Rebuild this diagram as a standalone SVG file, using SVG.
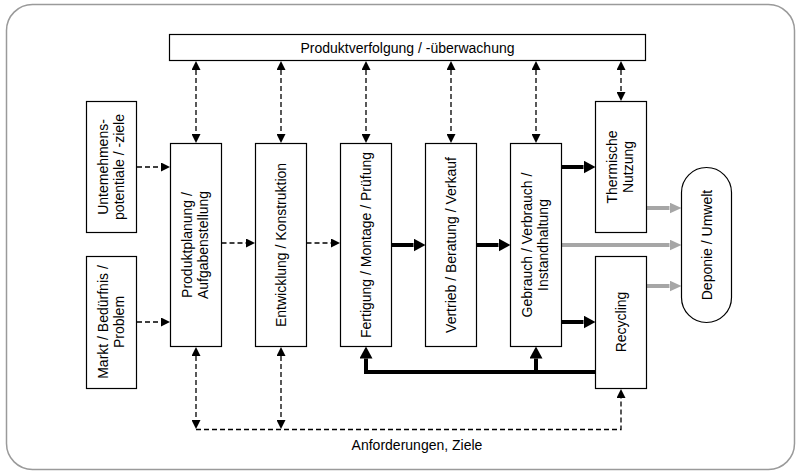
<svg xmlns="http://www.w3.org/2000/svg" width="798" height="472" viewBox="0 0 798 472">
  <style>
    .frame { fill: #ffffff; stroke: #9a9a9a; stroke-width: 1.5; }
    .box { fill: #ffffff; stroke: #000000; stroke-width: 1.2; }
    .lbl { font-family: "Liberation Sans", Arial, sans-serif; font-size: 14px; fill: #000000; text-anchor: middle; }
    .dash { fill: none; stroke: #000000; stroke-width: 1.3; stroke-dasharray: 5 3; }
    .thick { fill: none; stroke: #000000; stroke-width: 4; stroke-linejoin: miter; }
    .grey { fill: none; stroke: #a6a6a6; stroke-width: 4; }
  </style>
  <defs>
    <marker id="ahDash" viewBox="0 -4.5 9 9" refX="0" refY="0" markerWidth="9" markerHeight="9" markerUnits="userSpaceOnUse" orient="auto-start-reverse">
      <path d="M0,-4.5 L9,0 L0,4.5 z" fill="#000000"/>
    </marker>
    <marker id="ahThick" viewBox="0 -6.5 12 13" refX="0" refY="0" markerWidth="12" markerHeight="13" markerUnits="userSpaceOnUse" orient="auto">
      <path d="M0,-6.5 L12,0 L0,6.5 z" fill="#000000"/>
    </marker>
    <marker id="ahGrey" viewBox="0 -5.5 12 11" refX="0" refY="0" markerWidth="12" markerHeight="11" markerUnits="userSpaceOnUse" orient="auto">
      <path d="M0,-5.5 L12,0 L0,5.5 z" fill="#a6a6a6"/>
    </marker>
  </defs>

  <!-- outer frame -->
  <rect class="frame" x="6.5" y="4.5" width="788" height="465" rx="26" ry="26"/>

  <!-- connectors -->
  <g id="connectors">
    <!-- tracking bar <-> phases -->
    <path class="dash" d="M196,70 V134" marker-start="url(#ahDash)" marker-end="url(#ahDash)"/>
    <path class="dash" d="M281,70 V134" marker-start="url(#ahDash)" marker-end="url(#ahDash)"/>
    <path class="dash" d="M366,70 V134" marker-start="url(#ahDash)" marker-end="url(#ahDash)"/>
    <path class="dash" d="M451,70 V134" marker-start="url(#ahDash)" marker-end="url(#ahDash)"/>
    <path class="dash" d="M536,70 V134" marker-start="url(#ahDash)" marker-end="url(#ahDash)"/>
    <path class="dash" d="M621,70 V92" marker-start="url(#ahDash)" marker-end="url(#ahDash)"/>

    <!-- inputs to planning -->
    <path class="dash" d="M137,167 H161" marker-end="url(#ahDash)"/>
    <path class="dash" d="M137,322 H161" marker-end="url(#ahDash)"/>

    <!-- planning -> development -> production -->
    <path class="dash" d="M221.5,243 H246" marker-end="url(#ahDash)"/>
    <path class="dash" d="M306.5,243 H331" marker-end="url(#ahDash)"/>

    <!-- material flow -->
    <path class="thick" d="M391.5,245 H413.5" marker-end="url(#ahThick)"/>
    <path class="thick" d="M476.5,245 H498.5" marker-end="url(#ahThick)"/>
    <path class="thick" d="M561.5,167 H583.5" marker-end="url(#ahThick)"/>
    <path class="thick" d="M561.5,322 H583.5" marker-end="url(#ahThick)"/>

    <!-- recycling loop back -->
    <path class="thick" d="M595.5,372 H366 V358.5" marker-end="url(#ahThick)"/>
    <path class="thick" d="M536,372 V358.5" marker-end="url(#ahThick)"/>

    <!-- to landfill / environment -->
    <path class="grey" d="M646.5,208 H669.5" marker-end="url(#ahGrey)"/>
    <path class="grey" d="M561.5,245 H669.5" marker-end="url(#ahGrey)"/>
    <path class="grey" d="M646.5,286 H669.5" marker-end="url(#ahGrey)"/>

    <!-- requirements / goals feedback -->
    <path class="dash" d="M196,356 V420" marker-start="url(#ahDash)" marker-end="url(#ahDash)"/>
    <path class="dash" d="M281,356 V420" marker-start="url(#ahDash)" marker-end="url(#ahDash)"/>
    <path class="dash" d="M196,429.5 H621 V398" marker-end="url(#ahDash)"/>
    <text class="lbl" x="417" y="450">Anforderungen, Ziele</text>
  </g>

  <!-- nodes -->
  <g id="tracking">
    <rect class="box" x="169.5" y="34.5" width="476" height="26"/>
    <text class="lbl" x="407.5" y="52.5">Produktverfolgung / -überwachung</text>
  </g>

  <g id="potentials">
    <rect class="box" x="86.5" y="101.5" width="50" height="131"/>
    <text class="lbl" transform="translate(111.5,167) rotate(-90)"><tspan x="0" y="-4">Untemehmens-</tspan><tspan x="0" y="12">potentiale / -ziele</tspan></text>
  </g>

  <g id="market">
    <rect class="box" x="86.5" y="256.5" width="50" height="132"/>
    <text class="lbl" transform="translate(111.5,322) rotate(-90)"><tspan x="0" y="-4">Markt / Bedürfnis /</tspan><tspan x="0" y="12">Problem</tspan></text>
  </g>

  <g id="planning">
    <rect class="box" x="170.5" y="143.5" width="51" height="203"/>
    <text class="lbl" transform="translate(196,245) rotate(-90)"><tspan x="0" y="-4">Produktplanung /</tspan><tspan x="0" y="12">Aufgabenstellung</tspan></text>
  </g>

  <g id="development">
    <rect class="box" x="255.5" y="143.5" width="51" height="203"/>
    <text class="lbl" transform="translate(281,245) rotate(-90)"><tspan x="0" y="5">Entwicklung / Konstruktion</tspan></text>
  </g>

  <g id="production">
    <rect class="box" x="340.5" y="143.5" width="51" height="203"/>
    <text class="lbl" transform="translate(366,245) rotate(-90)"><tspan x="0" y="5">Fertigung / Montage / Prüfung</tspan></text>
  </g>

  <g id="sales">
    <rect class="box" x="425.5" y="143.5" width="51" height="203"/>
    <text class="lbl" transform="translate(451,245) rotate(-90)"><tspan x="0" y="5">Vertrieb / Beratung / Verkauf</tspan></text>
  </g>

  <g id="use">
    <rect class="box" x="510.5" y="143.5" width="51" height="203"/>
    <text class="lbl" transform="translate(536,245) rotate(-90)"><tspan x="0" y="-4">Gebrauch / Verbrauch /</tspan><tspan x="0" y="12">Instandhaltung</tspan></text>
  </g>

  <g id="thermal">
    <rect class="box" x="595.5" y="101.5" width="51" height="131"/>
    <text class="lbl" transform="translate(621,167) rotate(-90)"><tspan x="0" y="-4">Thermische</tspan><tspan x="0" y="12">Nutzung</tspan></text>
  </g>

  <g id="recycling">
    <rect class="box" x="595.5" y="256.5" width="51" height="132"/>
    <text class="lbl" transform="translate(621,322) rotate(-90)"><tspan x="0" y="5">Recycling</tspan></text>
  </g>

  <g id="landfill">
    <rect class="box" x="681.5" y="167.5" width="50" height="155" rx="25" ry="25"/>
    <text class="lbl" transform="translate(706.5,245) rotate(-90)"><tspan x="0" y="5">Deponie / Umwelt</tspan></text>
  </g>
</svg>
